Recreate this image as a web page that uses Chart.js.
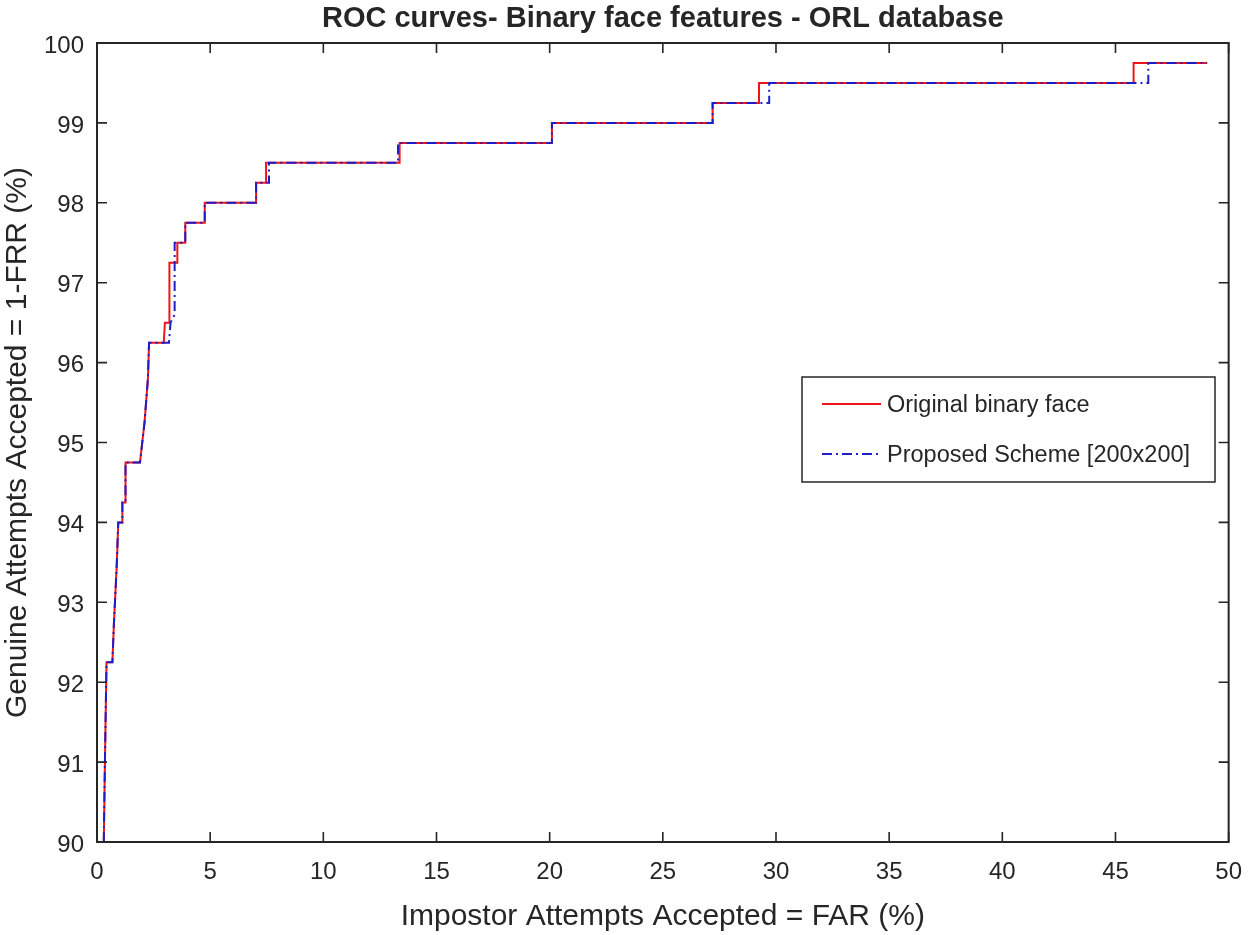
<!DOCTYPE html>
<html>
<head>
<meta charset="utf-8">
<script src="https://cdn.jsdelivr.net/npm/chart.js@4.4.1/dist/chart.umd.min.js"></script>
<style>
  html, body { margin: 0; padding: 0; background: #fff; }
  #wrap { width: 1250px; height: 935px; position: relative; }
</style>
</head>
<body>
<div id="wrap"><canvas id="c"></canvas></div>
<script>
// ---- data ----
const chartTitle = "ROC curves- Binary face features - ORL database";
const xAxisTitle = "Impostor Attempts Accepted = FAR (%)";
const yAxisTitle = "Genuine Attempts Accepted = 1-FRR (%)";
const seriesNames = ["Original binary face", "Proposed Scheme [200x200]"];
const xTickValues = [0, 5, 10, 15, 20, 25, 30, 35, 40, 45, 50];
const yTickValues = [90, 91, 92, 93, 94, 95, 96, 97, 98, 99, 100];

const farOriginal = [0.30, 0.35, 0.42, 0.68, 0.75, 0.87, 0.94, 1.12, 1.12, 1.26, 1.26, 1.90, 2.00, 2.10, 2.25, 2.30, 2.95, 3.00, 3.20, 3.20, 3.55, 3.55, 3.90, 3.90, 4.76, 4.76, 7.03, 7.03, 7.47, 7.47, 13.37, 13.37, 20.10, 20.10, 27.20, 27.20, 29.25, 29.25, 45.80, 45.80, 49.05];
const garOriginal = [90.00, 91.00, 92.25, 92.25, 92.75, 93.45, 94.00, 94.00, 94.25, 94.25, 94.75, 94.75, 95.00, 95.25, 95.80, 96.25, 96.25, 96.50, 96.50, 97.25, 97.25, 97.50, 97.50, 97.75, 97.75, 98.00, 98.00, 98.25, 98.25, 98.50, 98.50, 98.75, 98.75, 99.00, 99.00, 99.25, 99.25, 99.50, 99.50, 99.75, 99.75];

const farProposed = [0.30, 0.35, 0.42, 0.68, 0.75, 0.87, 0.94, 1.12, 1.12, 1.26, 1.26, 1.90, 2.00, 2.10, 2.25, 2.30, 3.18, 3.25, 3.43, 3.43, 3.90, 3.90, 4.76, 4.76, 7.03, 7.03, 7.60, 7.60, 13.30, 13.30, 20.10, 20.10, 27.20, 27.20, 29.70, 29.70, 46.45, 46.45, 49.05];
const garProposed = [90.00, 91.00, 92.25, 92.25, 92.75, 93.45, 94.00, 94.00, 94.25, 94.25, 94.75, 94.75, 95.00, 95.25, 95.80, 96.25, 96.25, 96.50, 96.60, 97.50, 97.50, 97.75, 97.75, 98.00, 98.00, 98.25, 98.25, 98.50, 98.50, 98.75, 98.75, 99.00, 99.00, 99.25, 99.25, 99.50, 99.50, 99.75, 99.75];

const toPoints = (xs, ys) => xs.map((x, i) => ({ x: x, y: ys[i] }));

const FONT = "'Liberation Sans', Arial, Helvetica, sans-serif";
const INK = '#262626';

// Box with inward ticks on all four sides (MATLAB style)
const boxPlugin = {
  id: 'boxTicks',
  afterDatasetsDraw(chart) {
    const { ctx, chartArea: { left, right, top, bottom }, scales: { x, y } } = chart;
    const L = 10;
    ctx.save();
    ctx.strokeStyle = INK;
    ctx.lineWidth = 1.6;
    ctx.beginPath();
    xTickValues.forEach(v => {
      const px = x.getPixelForValue(v);
      ctx.moveTo(px, bottom); ctx.lineTo(px, bottom - L);
      ctx.moveTo(px, top); ctx.lineTo(px, top + L);
    });
    yTickValues.forEach(v => {
      const py = y.getPixelForValue(v);
      ctx.moveTo(left, py); ctx.lineTo(left + L, py);
      ctx.moveTo(right, py); ctx.lineTo(right - L, py);
    });
    ctx.stroke();
    ctx.lineWidth = 2;
    ctx.strokeRect(left, top, right - left, bottom - top);
    ctx.restore();
  }
};

// Legend box inside the axes
const legendPlugin = {
  id: 'insideLegend',
  afterDraw(chart) {
    const { ctx } = chart;
    const bx = 802, by = 377, bw = 413, bh = 105;
    ctx.save();
    ctx.fillStyle = '#fff';
    ctx.fillRect(bx, by, bw, bh);
    ctx.strokeStyle = INK;
    ctx.lineWidth = 1.5;
    ctx.strokeRect(bx, by, bw, bh);
    const rows = [by + 27, by + 77];
    chart.data.datasets.forEach((ds, i) => {
      ctx.strokeStyle = ds.borderColor;
      ctx.lineWidth = 2;
      ctx.setLineDash(ds.borderDash || []);
      ctx.beginPath();
      ctx.moveTo(822, rows[i]);
      ctx.lineTo(881, rows[i]);
      ctx.stroke();
      ctx.setLineDash([]);
      ctx.fillStyle = INK;
      ctx.font = '23.5px ' + FONT;
      ctx.textBaseline = 'middle';
      ctx.textAlign = 'left';
      ctx.fillText(ds.label, 887, rows[i] + 2);
    });
    ctx.restore();
  }
};

new Chart(document.getElementById('c'), {
  type: 'line',
  data: {
    datasets: [
      {
        label: seriesNames[0],
        data: toPoints(farOriginal, garOriginal),
        borderColor: 'rgb(240,20,25)',
        borderWidth: 2,
        pointRadius: 0,
        tension: 0,
        fill: false,
        order: 2
      },
      {
        label: seriesNames[1],
        data: toPoints(farProposed, garProposed),
        borderColor: 'rgb(30,30,200)',
        borderWidth: 2,
        borderDash: [10, 4, 2, 4],
        pointRadius: 0,
        tension: 0,
        fill: false,
        order: 1
      }
    ]
  },
  options: {
    responsive: true,
    maintainAspectRatio: false,
    animation: false,
    layout: { padding: { left: 0, right: 18, top: 0, bottom: 0 } },
    plugins: {
      legend: { display: false },
      tooltip: { enabled: false },
      title: {
        display: true,
        fullSize: false,
        text: chartTitle,
        color: INK,
        font: { family: FONT, size: 29, weight: 'bold' },
        padding: { top: 2, bottom: 6.2 }
      }
    },
    scales: {
      x: {
        type: 'linear',
        min: 0, max: 50,
        afterBuildTicks(scale) { scale.ticks = xTickValues.map(v => ({ value: v })); },
        afterFit(scale) { scale.height = 93; },
        grid: { display: false },
        border: { display: false },
        ticks: { color: INK, font: { family: FONT, size: 24 }, padding: 8, maxRotation: 0 },
        title: { display: true, text: xAxisTitle, color: INK, font: { family: FONT, size: 30 }, padding: { top: 0, bottom: 0 } }
      },
      y: {
        type: 'linear',
        min: 90, max: 100,
        afterBuildTicks(scale) { scale.ticks = yTickValues.map(v => ({ value: v })); },
        afterFit(scale) { scale.width = 97; },
        grid: { display: false },
        border: { display: false },
        ticks: { color: INK, font: { family: FONT, size: 24 }, padding: 5, labelOffset: 3 },
        title: { display: true, text: yAxisTitle, color: INK, font: { family: FONT, size: 30 }, padding: { top: 0, bottom: 0 } }
      }
    }
  },
  plugins: [boxPlugin, legendPlugin]
});
</script>
</body>
</html>
